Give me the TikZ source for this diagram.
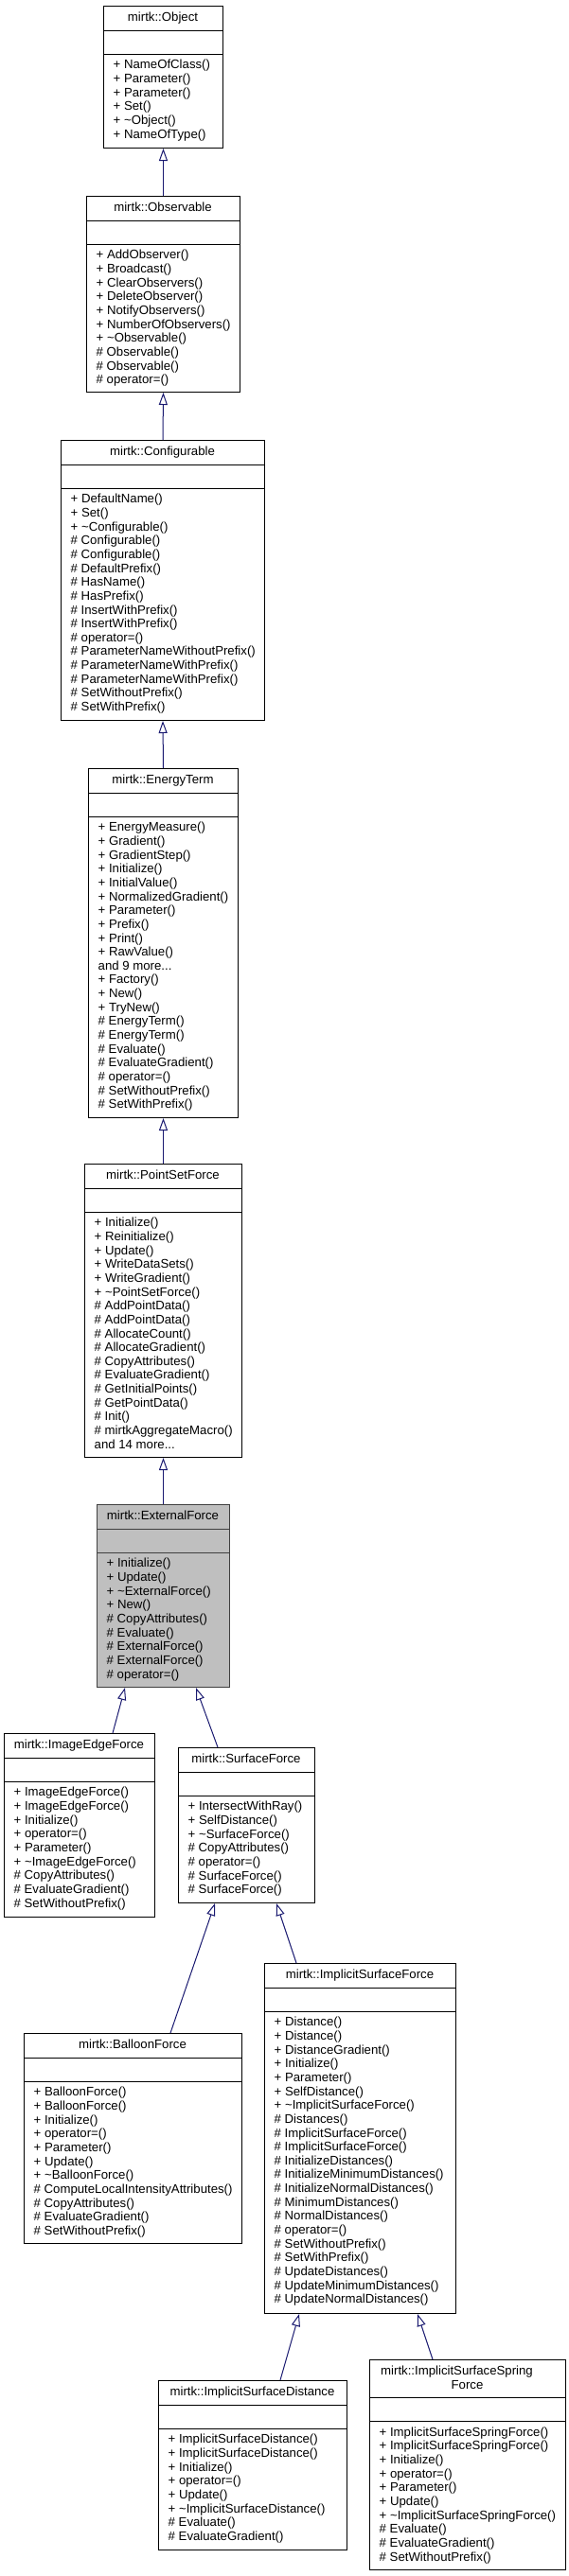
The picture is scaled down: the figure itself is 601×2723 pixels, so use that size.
\documentclass[tikz,border=0pt]{standalone}
\usepackage{fontspec}
\setmainfont{Liberation Sans}
\usetikzlibrary{arrows.meta,calc}
\definecolor{edgeblue}{HTML}{191970}
\definecolor{efill}{HTML}{BFBFBF}
\definecolor{eborder}{HTML}{404040}
\newcommand\tld{\textasciitilde}
\newcommand\threedots{...}
\tikzset{
  cls/.style={draw=black, fill=white, line width=1pt, inner sep=0pt},
  clsgray/.style={draw=eborder, fill=efill, line width=1pt, inner sep=0pt},
  sep cls/.style={draw=black, line width=1pt},
  sep clsgray/.style={draw=eborder, line width=1pt},
  txt/.style={font=\fontsize{13.2}{14.65}\selectfont, inner sep=0pt, text=black},
  inh/.style={draw=edgeblue, line width=1pt, -{Triangle[open,length=13pt,width=9pt]}}
}
% name, L, T, R, B, title height, style, title, methods
\newcommand\umlclass[9]{%
  \node[#7, anchor=north west, minimum width={#4-#2}, minimum height={#5-#3}] (#1) at (#2,#3) {};
  \draw[sep #7] ($(#1.north west)+(0,#6)$) -- ($(#1.north east)+(0,#6)$);
  \draw[sep #7] ($(#1.north west)+(0,#6+25)$) -- ($(#1.north east)+(0,#6+25)$);
  \node[txt, anchor=base] (#1-t) at ({(#2+#4)/2},{#3+16.8}) {#8};
  \foreach \m [count=\i] in {#9}
    \node[txt, anchor=base west] (#1-\i) at ({#2+10.5},{#3+#6+25+15.8+(\i-1)*14.65}) {\m};
}
\begin{document}
\begin{tikzpicture}[x=1pt,y=-1pt]
\fill[white] (0,0) rectangle (601,2723);
\useasboundingbox (0,0) rectangle (601,2723);

\umlclass{obj}{109}{6}{235}{156}{26}{cls}{mirtk::Object}
 {+ NameOfClass(), + Parameter(), + Parameter(), + Set(), + \tld Object(), + NameOfType()}

\umlclass{obs}{91}{207}{253}{414}{26}{cls}{mirtk::Observable}
 {+ AddObserver(), + Broadcast(), + ClearObservers(), + DeleteObserver(), + NotifyObservers(),
  + NumberOfObservers(), + \tld Observable(), \# Observable(), \# Observable(), \# operator=()}

\umlclass{cfg}{64}{465}{279}{761}{26}{cls}{mirtk::Configurable}
 {+ DefaultName(), + Set(), + \tld Configurable(), \# Configurable(), \# Configurable(),
  \# DefaultPrefix(), \# HasName(), \# HasPrefix(), \# InsertWithPrefix(), \# InsertWithPrefix(),
  \# operator=(), \# ParameterNameWithoutPrefix(), \# ParameterNameWithPrefix(),
  \# ParameterNameWithPrefix(), \# SetWithoutPrefix(), \# SetWithPrefix()}

\umlclass{ene}{93}{812}{251}{1181}{26}{cls}{mirtk::EnergyTerm}
 {+ EnergyMeasure(), + Gradient(), + GradientStep(), + Initialize(), + InitialValue(),
  + NormalizedGradient(), + Parameter(), + Prefix(), + Print(), + RawValue(), and 9 more\threedots,
  + Factory(), + New(), + TryNew(), \# EnergyTerm(), \# EnergyTerm(), \# Evaluate(),
  \# EvaluateGradient(), \# operator=(), \# SetWithoutPrefix(), \# SetWithPrefix()}

\umlclass{psf}{89}{1230}{255}{1540}{26}{cls}{mirtk::PointSetForce}
 {+ Initialize(), + Reinitialize(), + Update(), + WriteDataSets(), + WriteGradient(),
  + \tld PointSetForce(), \# AddPointData(), \# AddPointData(), \# AllocateCount(),
  \# AllocateGradient(), \# CopyAttributes(), \# EvaluateGradient(), \# GetInitialPoints(),
  \# GetPointData(), \# Init(), \# mirtkAggregateMacro(), and 14 more\threedots}

\umlclass{ext}{102}{1590}{242}{1783}{26}{clsgray}{mirtk::ExternalForce}
 {+ Initialize(), + Update(), + \tld ExternalForce(), + New(), \# CopyAttributes(),
  \# Evaluate(), \# ExternalForce(), \# ExternalForce(), \# operator=()}

\umlclass{ief}{4}{1832}{163}{2026}{26}{cls}{mirtk::ImageEdgeForce}
 {+ ImageEdgeForce(), + ImageEdgeForce(), + Initialize(), + operator=(), + Parameter(),
  + \tld ImageEdgeForce(), \# CopyAttributes(), \# EvaluateGradient(), \# SetWithoutPrefix()}

\umlclass{sf}{188}{1847}{332}{2011}{26}{cls}{mirtk::SurfaceForce}
 {+ IntersectWithRay(), + SelfDistance(), + \tld SurfaceForce(), \# CopyAttributes(),
  \# operator=(), \# SurfaceForce(), \# SurfaceForce()}

\umlclass{bal}{25}{2149}{255}{2371}{26}{cls}{mirtk::BalloonForce}
 {+ BalloonForce(), + BalloonForce(), + Initialize(), + operator=(), + Parameter(), + Update(),
  + \tld BalloonForce(), \# ComputeLocalIntensityAttributes(), \# CopyAttributes(),
  \# EvaluateGradient(), \# SetWithoutPrefix()}

\umlclass{isf}{279}{2075}{481}{2445}{26}{cls}{mirtk::ImplicitSurfaceForce}
 {+ Distance(), + Distance(), + DistanceGradient(), + Initialize(), + Parameter(),
  + SelfDistance(), + \tld ImplicitSurfaceForce(), \# Distances(), \# ImplicitSurfaceForce(),
  \# ImplicitSurfaceForce(), \# InitializeDistances(), \# InitializeMinimumDistances(),
  \# InitializeNormalDistances(), \# MinimumDistances(), \# NormalDistances(), \# operator=(),
  \# SetWithoutPrefix(), \# SetWithPrefix(), \# UpdateDistances(), \# UpdateMinimumDistances(),
  \# UpdateNormalDistances()}

\umlclass{isd}{167}{2516}{366}{2695}{26}{cls}{mirtk::ImplicitSurfaceDistance}
 {+ ImplicitSurfaceDistance(), + ImplicitSurfaceDistance(), + Initialize(), + operator=(),
  + Update(), + \tld ImplicitSurfaceDistance(), \# Evaluate(), \# EvaluateGradient()}

\umlclass{spr}{390}{2494}{597}{2716}{40.5}{cls}{}
 {+ ImplicitSurfaceSpringForce(), + ImplicitSurfaceSpringForce(), + Initialize(), + operator=(),
  + Parameter(), + Update(), + \tld ImplicitSurfaceSpringForce(), \# Evaluate(),
  \# EvaluateGradient(), \# SetWithoutPrefix()}
\node[txt, anchor=base west] (spr-t1) at (402,{2494+16.8}) {mirtk::ImplicitSurfaceSpring};
\node[txt, anchor=base] (spr-t2) at (493.5,{2494+16.8+14.65}) {Force};

% inheritance connectors
\draw[inh] (obs.north) -- (obj.south);
\draw[inh] (cfg.north) -- (obs.south);
\draw[inh] (ene.north) -- (cfg.south);
\draw[inh] (psf.north) -- (ene.south);
\draw[inh] (ext.north) -- (psf.south);
\draw[inh] ($(ief.north west)+(115,0)$) -- ($(ext.south west)+(30,0)$);
\draw[inh] ($(sf.north west)+(42,0)$) -- ($(ext.south west)+(105,0)$);
\draw[inh] ($(bal.north west)+(155,0)$) -- ($(sf.south west)+(39,0)$);
\draw[inh] ($(isf.north west)+(34,0)$) -- ($(sf.south west)+(104,0)$);
\draw[inh] ($(isd.north west)+(129,0)$) -- ($(isf.south west)+(37,0)$);
\draw[inh] ($(spr.north west)+(67,0)$) -- ($(isf.south west)+(162,0)$);
\end{tikzpicture}
\end{document}
